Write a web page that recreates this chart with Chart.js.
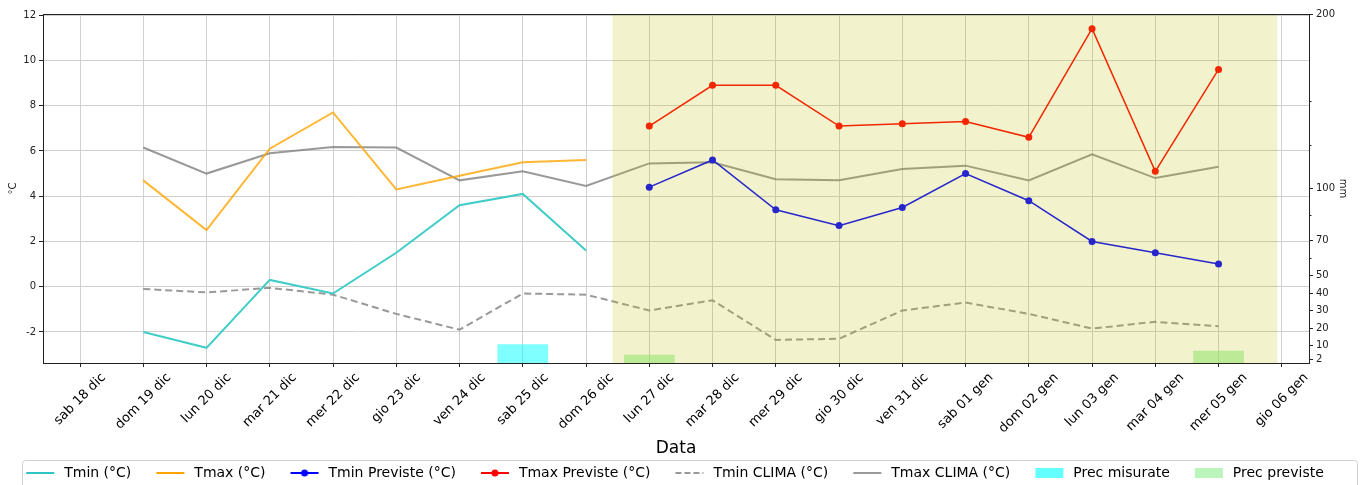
<!DOCTYPE html>
<html><head><meta charset="utf-8">
<script src="https://cdn.jsdelivr.net/npm/chart.js@4.4.1/dist/chart.umd.min.js"></script>
<style>html,body{margin:0;padding:0;background:#fff}#wrap{width:1361px;height:485px;position:relative}</style>
</head><body><div id="wrap"><canvas id="c" width="1361" height="485"></canvas></div>
<script>
const categories = ['sab 18 dic','dom 19 dic','lun 20 dic','mar 21 dic','mer 22 dic','gio 23 dic','ven 24 dic','sab 25 dic','dom 26 dic','lun 27 dic','mar 28 dic','mer 29 dic','gio 30 dic','ven 31 dic','sab 01 gen','dom 02 gen','lun 03 gen','mar 04 gen','mer 05 gen','gio 06 gen'];
const tmin      = [null,-2.0,-2.7,0.3,-0.3,1.5,3.6,4.1,1.6,null,null,null,null,null,null,null,null,null,null,null];
const tmax      = [null,4.7,2.5,6.1,7.7,4.3,4.9,5.5,5.6,null,null,null,null,null,null,null,null,null,null,null];
const tminPrev  = [null,null,null,null,null,null,null,null,null,4.4,5.6,3.4,2.7,3.5,5.0,3.8,2.0,1.5,1.0,null];
const tmaxPrev  = [null,null,null,null,null,null,null,null,null,7.1,8.9,8.9,7.1,7.2,7.3,6.6,11.4,5.1,9.6,null];
const tminClima = [null,-0.1,-0.25,-0.05,-0.35,-1.2,-1.9,-0.3,-0.35,-1.05,-0.6,-2.35,-2.3,-1.05,-0.7,-1.2,-1.85,-1.55,-1.75,null];
const tmaxClima = [null,6.15,5.0,5.9,6.17,6.15,4.7,5.1,4.45,5.45,5.5,4.75,4.7,5.2,5.35,4.7,5.85,4.8,5.3,null];
const precMisurate = [null,null,null,null,null,null,null,10.5,null,null,null,null,null,null,null,null,null,null,null,null];
const precPreviste = [null,null,null,null,null,null,null,null,null,4.5,null,null,null,null,null,null,null,null,6.8,null];
const tempTicks = [-2,0,2,4,6,8,10,12];
const precTicks = [2,10,20,30,40,50,70,100,200];
const precMinorTicks = [60,85,125,150];
const forecastStart = 8.42, forecastEnd = 18.93;

const pts = arr => arr.map((v,i)=>v==null?null:{x:i,y:v}).filter(p=>p);
const FONT = 'DejaVu Sans';

const B = 50;
function handle(kind, color, dashed, marker){
  const c = document.createElement('canvas');
  c.width = B; c.height = 14;
  const g = c.getContext('2d');
  if (kind === 'patch'){ g.fillStyle = color; g.fillRect(B-31, 2, 28, 10); return c; }
  g.strokeStyle = color; g.lineWidth = 2;
  if (dashed) g.setLineDash([6,3]);
  g.beginPath(); g.moveTo(B-31, 7); g.lineTo(B-3, 7); g.stroke();
  if (marker){ g.fillStyle = color; g.beginPath(); g.arc(B-17, 7, 3.5, 0, Math.PI*2); g.fill(); }
  return c;
}

const cTmin='#40cdc8', cTmax='rgba(255,165,0,0.8)', cGray='rgba(128,128,128,0.8)';
const datasets = [
  {label:'Tmin (°C)', data:pts(tmin), borderColor:cTmin, borderWidth:2, pointRadius:0, yAxisID:'y', _h:handle('line','#2ec4c4')},
  {label:'Tmax (°C)', data:pts(tmax), borderColor:cTmax, borderWidth:2, pointRadius:0, yAxisID:'y', _h:handle('line','#ffa500')},
  {label:'Tmin Previste (°C)', data:pts(tminPrev), borderColor:'#0000ff', backgroundColor:'#0000ff', borderWidth:1.5, pointRadius:3.5, pointBorderWidth:0, yAxisID:'y', _h:handle('line','#0000ff',false,true)},
  {label:'Tmax Previste (°C)', data:pts(tmaxPrev), borderColor:'#ff0000', backgroundColor:'#ff0000', borderWidth:1.5, pointRadius:3.5, pointBorderWidth:0, yAxisID:'y', _h:handle('line','#ff0000',false,true)},
  {label:'Tmin CLIMA (°C)', data:pts(tminClima), borderColor:cGray, borderWidth:2, borderDash:[7,4], pointRadius:0, yAxisID:'y', _h:handle('line','#999',true)},
  {label:'Tmax CLIMA (°C)', data:pts(tmaxClima), borderColor:cGray, borderWidth:2, pointRadius:0, yAxisID:'y', _h:handle('line','#999')},
  {type:'bar', label:'Prec misurate', data:pts(precMisurate), backgroundColor:'rgba(0,255,255,0.5)', barThickness:50, grouped:false, yAxisID:'y2', _h:handle('patch','rgba(0,255,255,0.6)')},
  {type:'bar', label:'Prec previste', data:pts(precPreviste), backgroundColor:'rgba(144,238,144,0.6)', barThickness:50, grouped:false, yAxisID:'y2', _h:handle('patch','rgba(144,238,144,0.6)')}
];
datasets.forEach(d=>{ if(!d.type) d.type='line'; d.tension=0; d.spanGaps=false; });

const overlay = {
  id:'overlay',
  afterLayout(chart){
    const lg = chart.legend;
    if (lg){ lg.left -= 11; lg.right -= 11; }
  },
  afterDatasetsDraw(chart){
    const {ctx, chartArea:a, scales:{x}} = chart;
    const x0 = x.getPixelForValue(forecastStart), x1 = x.getPixelForValue(forecastEnd);
    ctx.save(); ctx.fillStyle = 'rgba(191,191,0,0.2)';
    ctx.fillRect(x0, a.top, x1-x0, a.bottom-a.top); ctx.restore();
  },
  afterDraw(chart){
    const {ctx, chartArea:a, scales:{x, y2}} = chart;
    ctx.save();
    ctx.strokeStyle = '#222'; ctx.lineWidth = 1;
    ctx.strokeRect(Math.round(a.left)+0.5, Math.round(a.top)+0.5, Math.round(a.right-a.left), Math.round(a.bottom-a.top));
    ctx.beginPath();
    precMinorTicks.forEach(v=>{ const yy = Math.round(y2.getPixelForValue(v))+0.5; ctx.moveTo(a.right, yy); ctx.lineTo(a.right+2.5, yy); });
    ctx.stroke();
    // x tick labels, rotated 45deg, bounding box centred under the tick (matplotlib style)
    ctx.font = '13px "' + FONT + '"'; ctx.fillStyle = '#000';
    ctx.textAlign = 'center'; ctx.textBaseline = 'middle';
    const s = Math.SQRT1_2, h = 13;
    categories.forEach((lab,i)=>{
      const px = x.getPixelForValue(i);
      const w = ctx.measureText(lab).width;
      const bw = (w + h) * s;
      const cy = a.bottom + 8 + bw/2;
      ctx.save(); ctx.translate(px, cy); ctx.rotate(-Math.PI/4); ctx.fillText(lab, 0, 0); ctx.restore();
    });
    // legend frame
    ctx.strokeStyle = '#d0d0d0';
    const r = 3, lx = 22.5, ly = 460.5, lw = 1335, lh = 30;
    ctx.beginPath();
    ctx.moveTo(lx+r, ly); ctx.lineTo(lx+lw-r, ly); ctx.arcTo(lx+lw, ly, lx+lw, ly+r, r);
    ctx.lineTo(lx+lw, ly+lh); ctx.moveTo(lx, ly+lh); ctx.lineTo(lx, ly+r); ctx.arcTo(lx, ly, lx+r, ly, r);
    ctx.stroke();
    ctx.restore();
  }
};

new Chart(document.getElementById('c'), {
  data:{datasets},
  options:{
    responsive:false, animation:false,
    layout:{padding:{top:14, right:8, left:0, bottom:-5}},
    plugins:{
      tooltip:{enabled:false},
      legend:{position:'bottom', labels:{
        usePointStyle:true, pointStyleWidth:B, padding:6, color:'#000',
        font:{family:FONT, size:14},
        generateLabels:(chart)=>chart.data.datasets.map((d,i)=>({text:d.label, pointStyle:d._h, fillStyle:'#000', strokeStyle:'#000', lineWidth:0, hidden:false, datasetIndex:i, fontColor:'#000'}))
      }}
    },
    scales:{
      x:{type:'linear', min:-0.585, max:19.43, offset:false,
        afterBuildTicks:s=>{ s.ticks = categories.map((_,i)=>({value:i})); },
        afterFit:s=>{ s.height = 97; },
        ticks:{display:false},
        grid:{offset:false, color:'#d0d0d0', lineWidth:1, tickColor:'#222', tickLength:4},
        border:{display:false},
        title:{display:true, text:'Data', color:'#000', font:{family:FONT, size:17}, padding:{top:0,bottom:1}}
      },
      y:{type:'linear', position:'left', min:-3.37, max:12.05,
        afterBuildTicks:s=>{ s.ticks = tempTicks.map(v=>({value:v})); },
        afterFit:s=>{ s.width = 43; },
        ticks:{color:'#222', font:{family:FONT, size:10}, padding:3},
        grid:{color:'#d0d0d0', lineWidth:1, tickColor:'#222', tickLength:4},
        border:{display:false},
        title:{display:true, text:'°C', color:'#222', font:{family:FONT, size:10}, padding:{top:7,bottom:0}}
      },
      y2:{type:'linear', position:'right', min:0, max:200,
        afterBuildTicks:s=>{ s.ticks = precTicks.map(v=>({value:v})); },
        afterFit:s=>{ s.width = 44; },
        ticks:{color:'#222', font:{family:FONT, size:10}, padding:3},
        grid:{drawOnChartArea:false, tickColor:'#222', tickLength:4},
        border:{display:false},
        title:{display:true, text:'mm', color:'#222', font:{family:FONT, size:10}, padding:{top:4,bottom:0}}
      }
    }
  },
  plugins:[overlay]
});
</script></body></html>
